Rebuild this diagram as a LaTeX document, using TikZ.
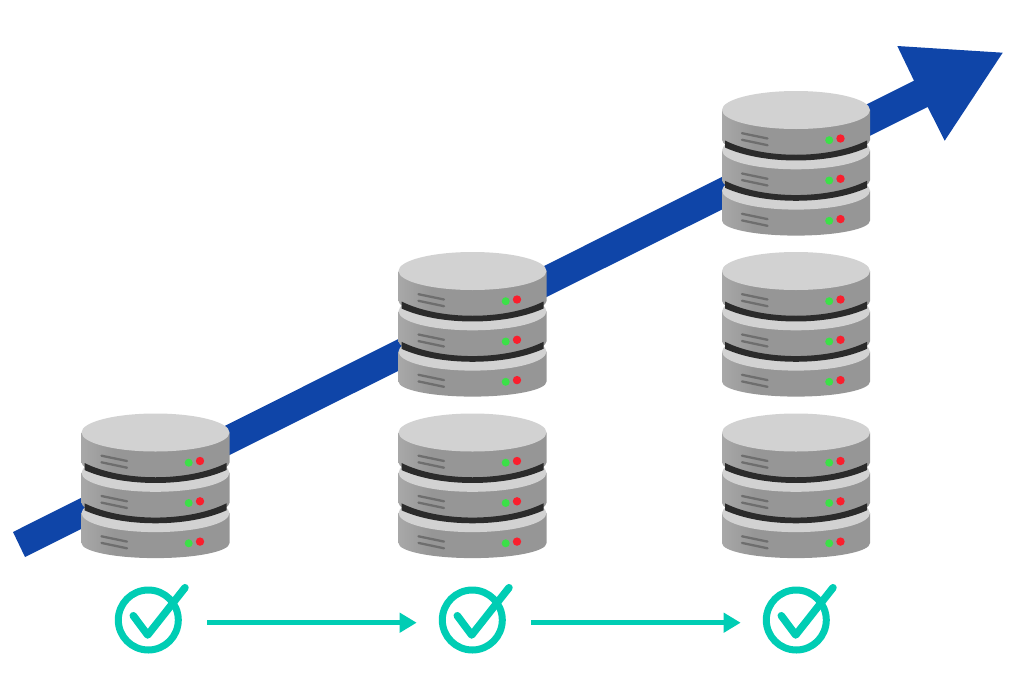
\documentclass[tikz,border=0pt]{standalone}
\usetikzlibrary{arrows.meta,positioning}

\definecolor{trendblue}{HTML}{0F45A8}
\definecolor{tealgreen}{HTML}{00CDB4}
\definecolor{disktop}{HTML}{D2D2D2}
\definecolor{diskside}{HTML}{969696}
\definecolor{disklight}{HTML}{A8A8A8}
\definecolor{diskband}{HTML}{2B2B2B}
\definecolor{diskvent}{HTML}{6E6E6E}
\definecolor{ledgreen}{HTML}{3CE048}
\definecolor{ledred}{HTML}{FA1E2D}

\pgfdeclarehorizontalshading{disk shading}{100bp}{color(0bp)=(disklight); color(25bp)=(disklight); color(36bp)=(diskside); color(100bp)=(diskside)}

\tikzset{
    check node/.style={circle,draw=tealgreen,line width=7pt,minimum size=60pt,inner sep=0pt},
    check tick/.style={draw=tealgreen,line width=7.5pt,line cap=round,line join=round},
    flow/.style={draw=tealgreen,line width=5.5pt,-{Triangle[length=17pt,width=19pt]}},
    vent/.style={draw=diskvent,line width=2.3pt,line cap=round},
    server/.pic={
        % lower disks first
        \foreach \c in {80.6,40.3,0}{
            \shade[shading=disk shading]
                (-74,\c) -- (-74,\c+30) arc[start angle=180,end angle=360,x radius=74pt,y radius=15pt] -- (74,\c) -- cycle;
            \fill[disktop] (0,\c) ellipse[x radius=74pt,y radius=19pt];
            \draw[vent] (-54,\c+23.2) -- (-28.5,\c+28.5);
            \draw[vent] (-54,\c+29.8) -- (-28.5,\c+35.2);
            \fill[ledgreen] (33.2,\c+30.2) circle[radius=4pt];
            \fill[ledred] (44.5,\c+28.5) circle[radius=4.2pt];
            % black band under the two upper disks
            \ifdim\c pt<80pt
                \fill[diskband] (-71,\c+30.5) -- (-71,\c+37.5) .. controls (-33,\c+54.8) and (33,\c+54.8) .. (71,\c+37.5)
                    -- (71,\c+30.5) .. controls (33,\c+49.5) and (-33,\c+49.5) .. cycle;
            \fi
        }
    }
}

\begin{document}
\begin{tikzpicture}[x=1pt,y=-1pt,node distance=324pt]

    \useasboundingbox (0,0) rectangle (1010,683);

    % Trend arrow behind the servers
    \fill[trendblue] (13,532) -- (25,557) -- (927.7,107) -- (944.7,140.7) -- (1002.7,52.7)
        -- (897.3,46) -- (914,80.7) -- cycle;

    % Server stacks
    \pic at (155.5,432.5) {server};
    \pic at (472.5,432.5) {server};
    \pic at (472.5,271) {server};
    \pic at (796,432.5) {server};
    \pic at (796,271) {server};
    \pic at (796,110) {server};

    % Check marks
    \node[check node] (check1) at (148.3,620) {};
    \node[check node,right=of check1.center,anchor=center] (check2) {};
    \node[check node,right=of check2.center,anchor=center] (check3) {};
    \foreach \n in {check1,check2,check3}{
        \draw[check tick] ([shift={(-15,-4.3)}]\n.center) -- ([shift={(-0.6,15)}]\n.center) -- ([shift={(36.7,-32.3)}]\n.center);
    }

    % Arrows between the checks
    \coordinate (out1) at ([shift={(58.7,2.7)}]check1.center);
    \coordinate (in2) at ([shift={(-55.6,2.7)}]check2.center);
    \coordinate (out2) at ([shift={(58.7,2.7)}]check2.center);
    \coordinate (in3) at ([shift={(-55.6,2.7)}]check3.center);
    \draw[flow] (out1) -- (in2);
    \draw[flow] (out2) -- (in3);

\end{tikzpicture}
\end{document}
